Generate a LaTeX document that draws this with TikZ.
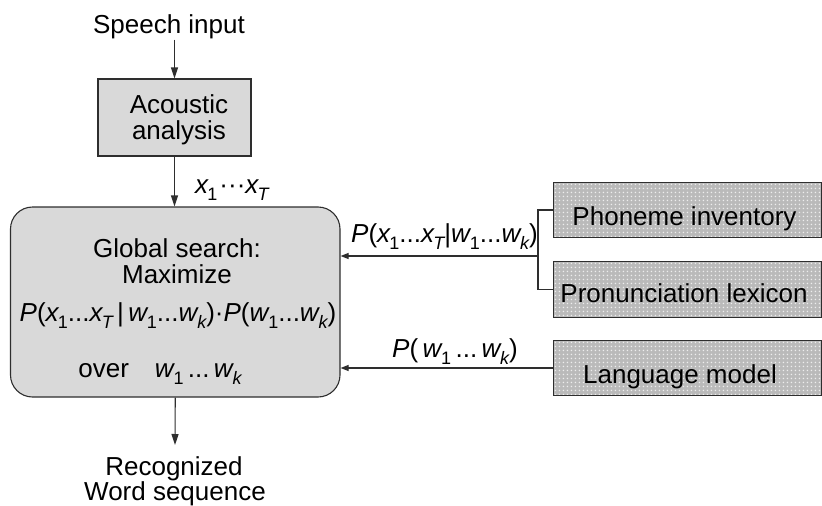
\documentclass[tikz,border=0pt]{standalone}
\usepackage{fontspec}
\setmainfont{Liberation Sans}
\usetikzlibrary{arrows.meta,calc}

% subscript used in the probability labels
\newcommand\sbs[1]{\kern-1.5pt\raisebox{-0.3em}{\fontsize{18}{18}\selectfont#1}}
\newcommand\vx{\textit{x}}
\newcommand\vw{\textit{w}}
\newcommand\vP{\textit{P}}

\definecolor{linegray}{HTML}{2E2E2E}
\definecolor{boxfill}{HTML}{D9D9D9}
\definecolor{dotgray}{HTML}{BABABA}
\definecolor{dotwhite}{HTML}{EDEDED}

% light dot screen over a knowledge-source panel
\newcommand\dottedpanel[1]{%
  \begin{scope}
    \clip (#1.south west) rectangle (#1.north east);
    \foreach \i in {0,...,67}{\foreach \j in {0,...,14}{
      \fill[dotwhite] ($(#1.north west)+(4*\i+2,4*\j+2)$) circle (0.8pt);}}
  \end{scope}
  \draw[linegray,line width=1.1pt] (#1.south west) rectangle (#1.north east);}

\begin{document}
\begin{tikzpicture}[x=1pt,y=-1pt,
  txt/.style={inner sep=0pt,anchor=base,font=\fontsize{26}{30}\selectfont},
  line/.style={draw=linegray,line width=1.1pt},
  varr/.style={line,-{Triangle[length=11pt,width=7pt]}},
  harr/.style={line,-{Triangle[length=8pt,width=6pt]}},
  abox/.style={draw=linegray,line width=1.1pt,fill=boxfill,inner sep=0pt},
  mainbox/.style={abox,rounded corners=22pt},
  rbox/.style={fill=dotgray,inner sep=0pt,outer sep=0.55pt}]

\useasboundingbox (0,0) rectangle (822,506);

% input and acoustic front end
\node[txt] (speech) at (169,34) {Speech input};
\node[abox,minimum width=153pt,minimum height=77pt] (acoustic) at (174.5,117.5) {};
\node[txt] (acl1) at (179,113) {Acoustic};
\node[txt] (acl2) at (179,139) {analysis};

% global search
\node[mainbox,minimum width=329.5pt,minimum height=190pt] (main) at (175.25,302) {};
\node[txt] (ml1) at (177,257) {Global search:};
\node[txt] (ml2) at (177,283) {Maximize};
\node[txt] (ml3) at (178,321) {\vP(\vx\sbs{1}...\vx\sbs{\itshape T}\,|\,\vw\sbs{1}...\vw\sbs{\itshape k})·\vP(\vw\sbs{1}...\vw\sbs{\itshape k})};
\node[txt] (ml4) at (160,377) {over\quad\vw\sbs{1}\,...\,\vw\sbs{\itshape k}};

\node[txt,anchor=base west] (xlab) at (195,193) {\vx\sbs{1}\kern2pt···\vx\sbs{\itshape T}};

% output
\node[txt] (rec1) at (174,475) {Recognized};
\node[txt] (rec2) at (175,500) {Word sequence};
\coordinate (out) at (175,445);

% knowledge sources
\node[rbox,minimum width=267pt,minimum height=54pt] (phon) at (687.5,210) {};
\node[rbox,minimum width=267pt,minimum height=55pt] (pron) at (687.5,289.5) {};
\node[rbox,minimum width=267pt,minimum height=54pt] (lang) at (687.5,368) {};
\dottedpanel{phon}
\dottedpanel{pron}
\dottedpanel{lang}
\node[txt] (phonl) at (684.5,225) {Phoneme inventory};
\node[txt] (pronl) at (684,302) {Pronunciation lexicon};
\node[txt] (langl) at (680,383) {Language model};

\node[txt,anchor=base west] (plab1) at (351,242) {\vP(\vx\sbs{1}...\vx\sbs{\itshape T}|\vw\sbs{1}...\vw\sbs{\itshape k})};
\node[txt,anchor=base west] (plab2) at (392,357) {\vP(\,\vw\sbs{1}\,...\,\vw\sbs{\itshape k})};

% connectors
\draw[varr] (acoustic.north |- speech.south) -- (acoustic.north);
\draw[varr] (acoustic.south) -- (acoustic.south |- main.north);
\draw[varr] (main.south) -- (out);

\coordinate (bj) at (538,256);
\draw[line] (phon.west) -| (bj) |- (pron.west);
\draw[harr] (bj) -- (bj -| main.east);
\draw[harr] (lang.west) -- (lang.west -| main.east);
\end{tikzpicture}
\end{document}
